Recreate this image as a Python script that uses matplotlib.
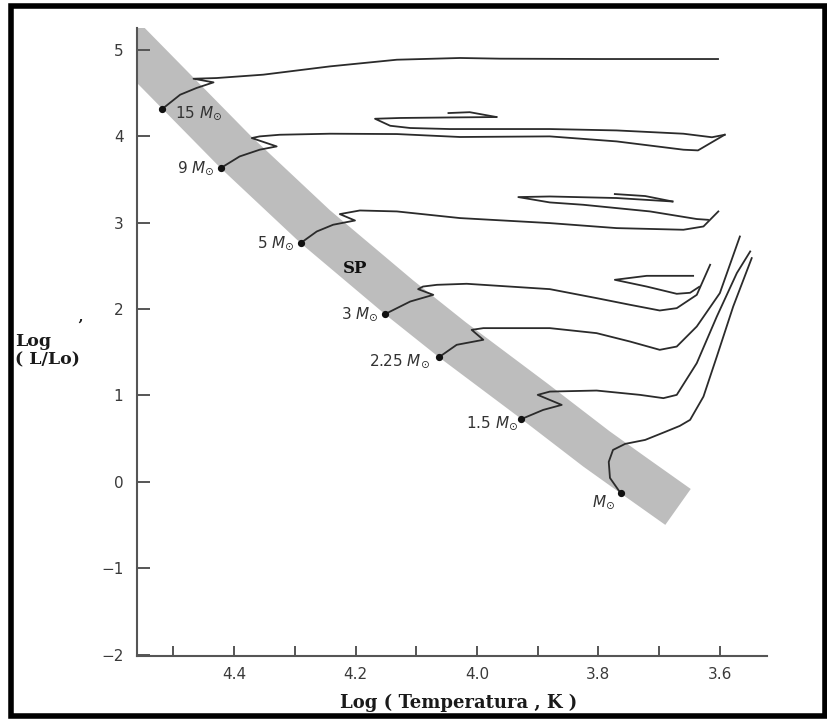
import matplotlib
matplotlib.use('Agg')
import matplotlib.pyplot as plt
from matplotlib.patches import Rectangle
from matplotlib.ticker import FormatStrFormatter

## franja de la secuencia principal (linea central, log T / log L)
band_t = [4.621, 4.4928, 4.3969, 4.2664, 4.1287, 4.0404, 3.9045, 3.8033, 3.7424, 3.6689]
band_l = [5.414, 4.4977, 3.8125, 2.9526, 2.1377, 1.6435, 0.9283, 0.3820, 0.0764, -0.2893]

## trazas evolutivas
m15_t = [4.518, 4.489, 4.462, 4.434, 4.467, 4.429, 4.352, 4.242, 4.132, 4.028, 3.962, 3.797, 3.603]
m15_l = [4.317, 4.479, 4.557, 4.622, 4.664, 4.672, 4.711, 4.807, 4.884, 4.904, 4.896, 4.892, 4.892]

m9_t = [4.422, 4.391, 4.358, 4.330, 4.371, 4.358, 4.325, 4.242, 4.132, 4.028, 3.880, 3.770, 3.660, 3.636, 3.592]
m9_l = [3.631, 3.765, 3.843, 3.881, 3.978, 3.997, 4.016, 4.028, 4.024, 3.990, 3.997, 3.939, 3.843, 3.835, 4.016]
m9_loop_t = [3.592, 3.613, 3.660, 3.770, 3.880, 4.045, 4.110, 4.143, 4.168, 4.127, 4.045, 3.968]
m9_loop_l = [4.016, 3.987, 4.028, 4.066, 4.082, 4.082, 4.094, 4.120, 4.201, 4.210, 4.216, 4.221]
m9_dash_t = [4.047, 4.012, 3.968]
m9_dash_l = [4.267, 4.277, 4.221]

m5_t = [4.2905, 4.264, 4.237, 4.201, 4.226, 4.193, 4.132, 4.028, 3.880, 3.770, 3.660, 3.627, 3.6025]
m5_l = [2.763, 2.897, 2.975, 3.024, 3.098, 3.140, 3.129, 3.052, 2.994, 2.936, 2.917, 2.955, 3.129]
m5_loop_t = [3.6195, 3.638, 3.715, 3.825, 3.880, 3.932, 3.880, 3.770, 3.678]
m5_loop_l = [3.032, 3.041, 3.129, 3.206, 3.233, 3.295, 3.302, 3.284, 3.244]
m5_dash_t = [3.773, 3.723, 3.678]
m5_dash_l = [3.330, 3.307, 3.244]

m3_t = [4.1516, 4.110, 4.072, 4.097, 4.089, 4.066, 4.017, 3.880, 3.803, 3.748, 3.699, 3.671, 3.638, 3.616]
m3_l = [1.941, 2.087, 2.164, 2.230, 2.260, 2.280, 2.292, 2.230, 2.126, 2.049, 1.983, 2.010, 2.164, 2.512]
m3_loop_t = [3.634, 3.649, 3.671, 3.7205, 3.773, 3.7205, 3.644]
m3_loop_l = [2.257, 2.188, 2.176, 2.260, 2.338, 2.384, 2.384]

m225_t = [4.0626, 4.0335, 3.9896, 4.0088, 3.9896, 3.880, 3.803, 3.748, 3.699, 3.671, 3.638, 3.600, 3.567]
m225_l = [1.443, 1.586, 1.644, 1.759, 1.779, 1.779, 1.721, 1.624, 1.528, 1.566, 1.798, 2.184, 2.839]

m15s_t = [3.927, 3.891, 3.8605, 3.900, 3.880, 3.803, 3.7315, 3.693, 3.671, 3.638, 3.605, 3.572, 3.550]
m15s_l = [0.727, 0.833, 0.891, 1.007, 1.045, 1.057, 1.007, 0.969, 1.007, 1.374, 1.913, 2.416, 2.666]

m1_t = [3.7633, 3.781, 3.783, 3.776, 3.756, 3.723, 3.690, 3.666, 3.649, 3.627, 3.605, 3.578, 3.5475]
m1_l = [-0.131, 0.046, 0.232, 0.370, 0.440, 0.486, 0.579, 0.648, 0.718, 0.987, 1.450, 2.029, 2.589]

## ZAMS y etiquetas de masa
zams_t = [4.5185, 4.4222, 4.2905, 4.1516, 4.0626, 3.927, 3.7633]
zams_l = [4.3171, 3.6308, 2.7627, 1.9410, 1.4433, 0.727, -0.1308]
mass_names = ['15', '9', '5', '3', '2.25', '1.5', '']
label_t = [4.4975, 4.4316, 4.2999, 4.1626, 4.0775, 3.9320, 3.7727]
label_l = [4.2674, 3.6308, 2.7627, 1.9414, 1.4039, 0.6794, -0.2280]

y_ticks = [-2, -1, 0, 1, 2, 3, 4, 5]
x_major = [4.4, 4.2, 4.0, 3.8, 3.6]
x_minor = [4.5, 4.3, 4.1, 3.9, 3.7]

line_col = '#2b2b2b'
axis_col = '#555555'
text_col = '#333333'

fig = plt.figure(figsize=(8.27, 7.19), dpi=100)
ax = fig.add_axes([0.166, 0.0876, 0.7611, 0.8735])

## franja gris
ax.plot(band_t, band_l, color='#bdbdbd', lw=31.7, solid_capstyle='butt',
        solid_joinstyle='round', zorder=1)

## trazas
tracks = [(m15_t, m15_l), (m9_t, m9_l), (m9_loop_t, m9_loop_l), (m9_dash_t, m9_dash_l),
          (m5_t, m5_l), (m5_loop_t, m5_loop_l), (m5_dash_t, m5_dash_l),
          (m3_t, m3_l), (m3_loop_t, m3_loop_l), (m225_t, m225_l),
          (m15s_t, m15s_l), (m1_t, m1_l)]
for tt, ll in tracks:
	ax.plot(tt, ll, color=line_col, lw=1.3, solid_joinstyle='round', zorder=3)

ax.plot(zams_t, zams_l, 'o', color='#111111', ms=4.2, zorder=4)

for i in range(len(mass_names)):
	if mass_names[i]:
		s = mass_names[i] + ' $M_{\\odot}$'
	else:
		s = '$M_{\\odot}$'
	ha = 'left' if i == 0 else 'right'
	ax.text(label_t[i], label_l[i], s, ha=ha, va='center', fontsize=11,
	        color=text_col, zorder=5)

ax.text(4.201, 2.473, 'SP', family='DejaVu Serif', weight='bold', fontsize=12,
        ha='center', va='center', color='#111111', zorder=5)

## ejes
ax.set_xlim(4.5596, 3.5228)
ax.set_ylim(-2.0139, 5.2512)
ax.spines['top'].set_visible(False)
ax.spines['right'].set_visible(False)
for side in ['left', 'bottom']:
	ax.spines[side].set_color(axis_col)
	ax.spines[side].set_linewidth(1.5)

ax.set_yticks(y_ticks)
ax.set_xticks(x_major)
ax.set_xticks(x_minor, minor=True)
ax.xaxis.set_major_formatter(FormatStrFormatter('%.1f'))
ax.tick_params(axis='y', direction='in', length=9.5, width=1.4, color=axis_col,
               pad=10, labelsize=11, labelcolor='#3a3a3a')
ax.tick_params(axis='x', which='both', direction='in', length=7, width=1.4,
               color=axis_col, pad=8, labelsize=11, labelcolor='#3a3a3a')

## etiquetas
fig.text(0.555, 0.0222, 'Log ( Temperatura , K )', family='DejaVu Serif',
         weight='bold', fontsize=13, ha='center', va='center', color='#1a1a1a')
fig.text(0.0181, 0.5118, 'Log\n( L/Lo)', family='DejaVu Serif', weight='bold',
         fontsize=12.5, ha='left', va='center', linespacing=1.1, color='#1a1a1a')
fig.text(0.0967, 0.5466, '\u2019', family='DejaVu Serif', weight='bold',
         fontsize=11, ha='center', va='center', color='#1a1a1a')

## marco
fig.add_artist(Rectangle((0.0139, 0.0042), 0.9831, 0.9881, transform=fig.transFigure,
                         fill=False, lw=4, ec='black'))

fig.savefig('out.png', dpi=100)
